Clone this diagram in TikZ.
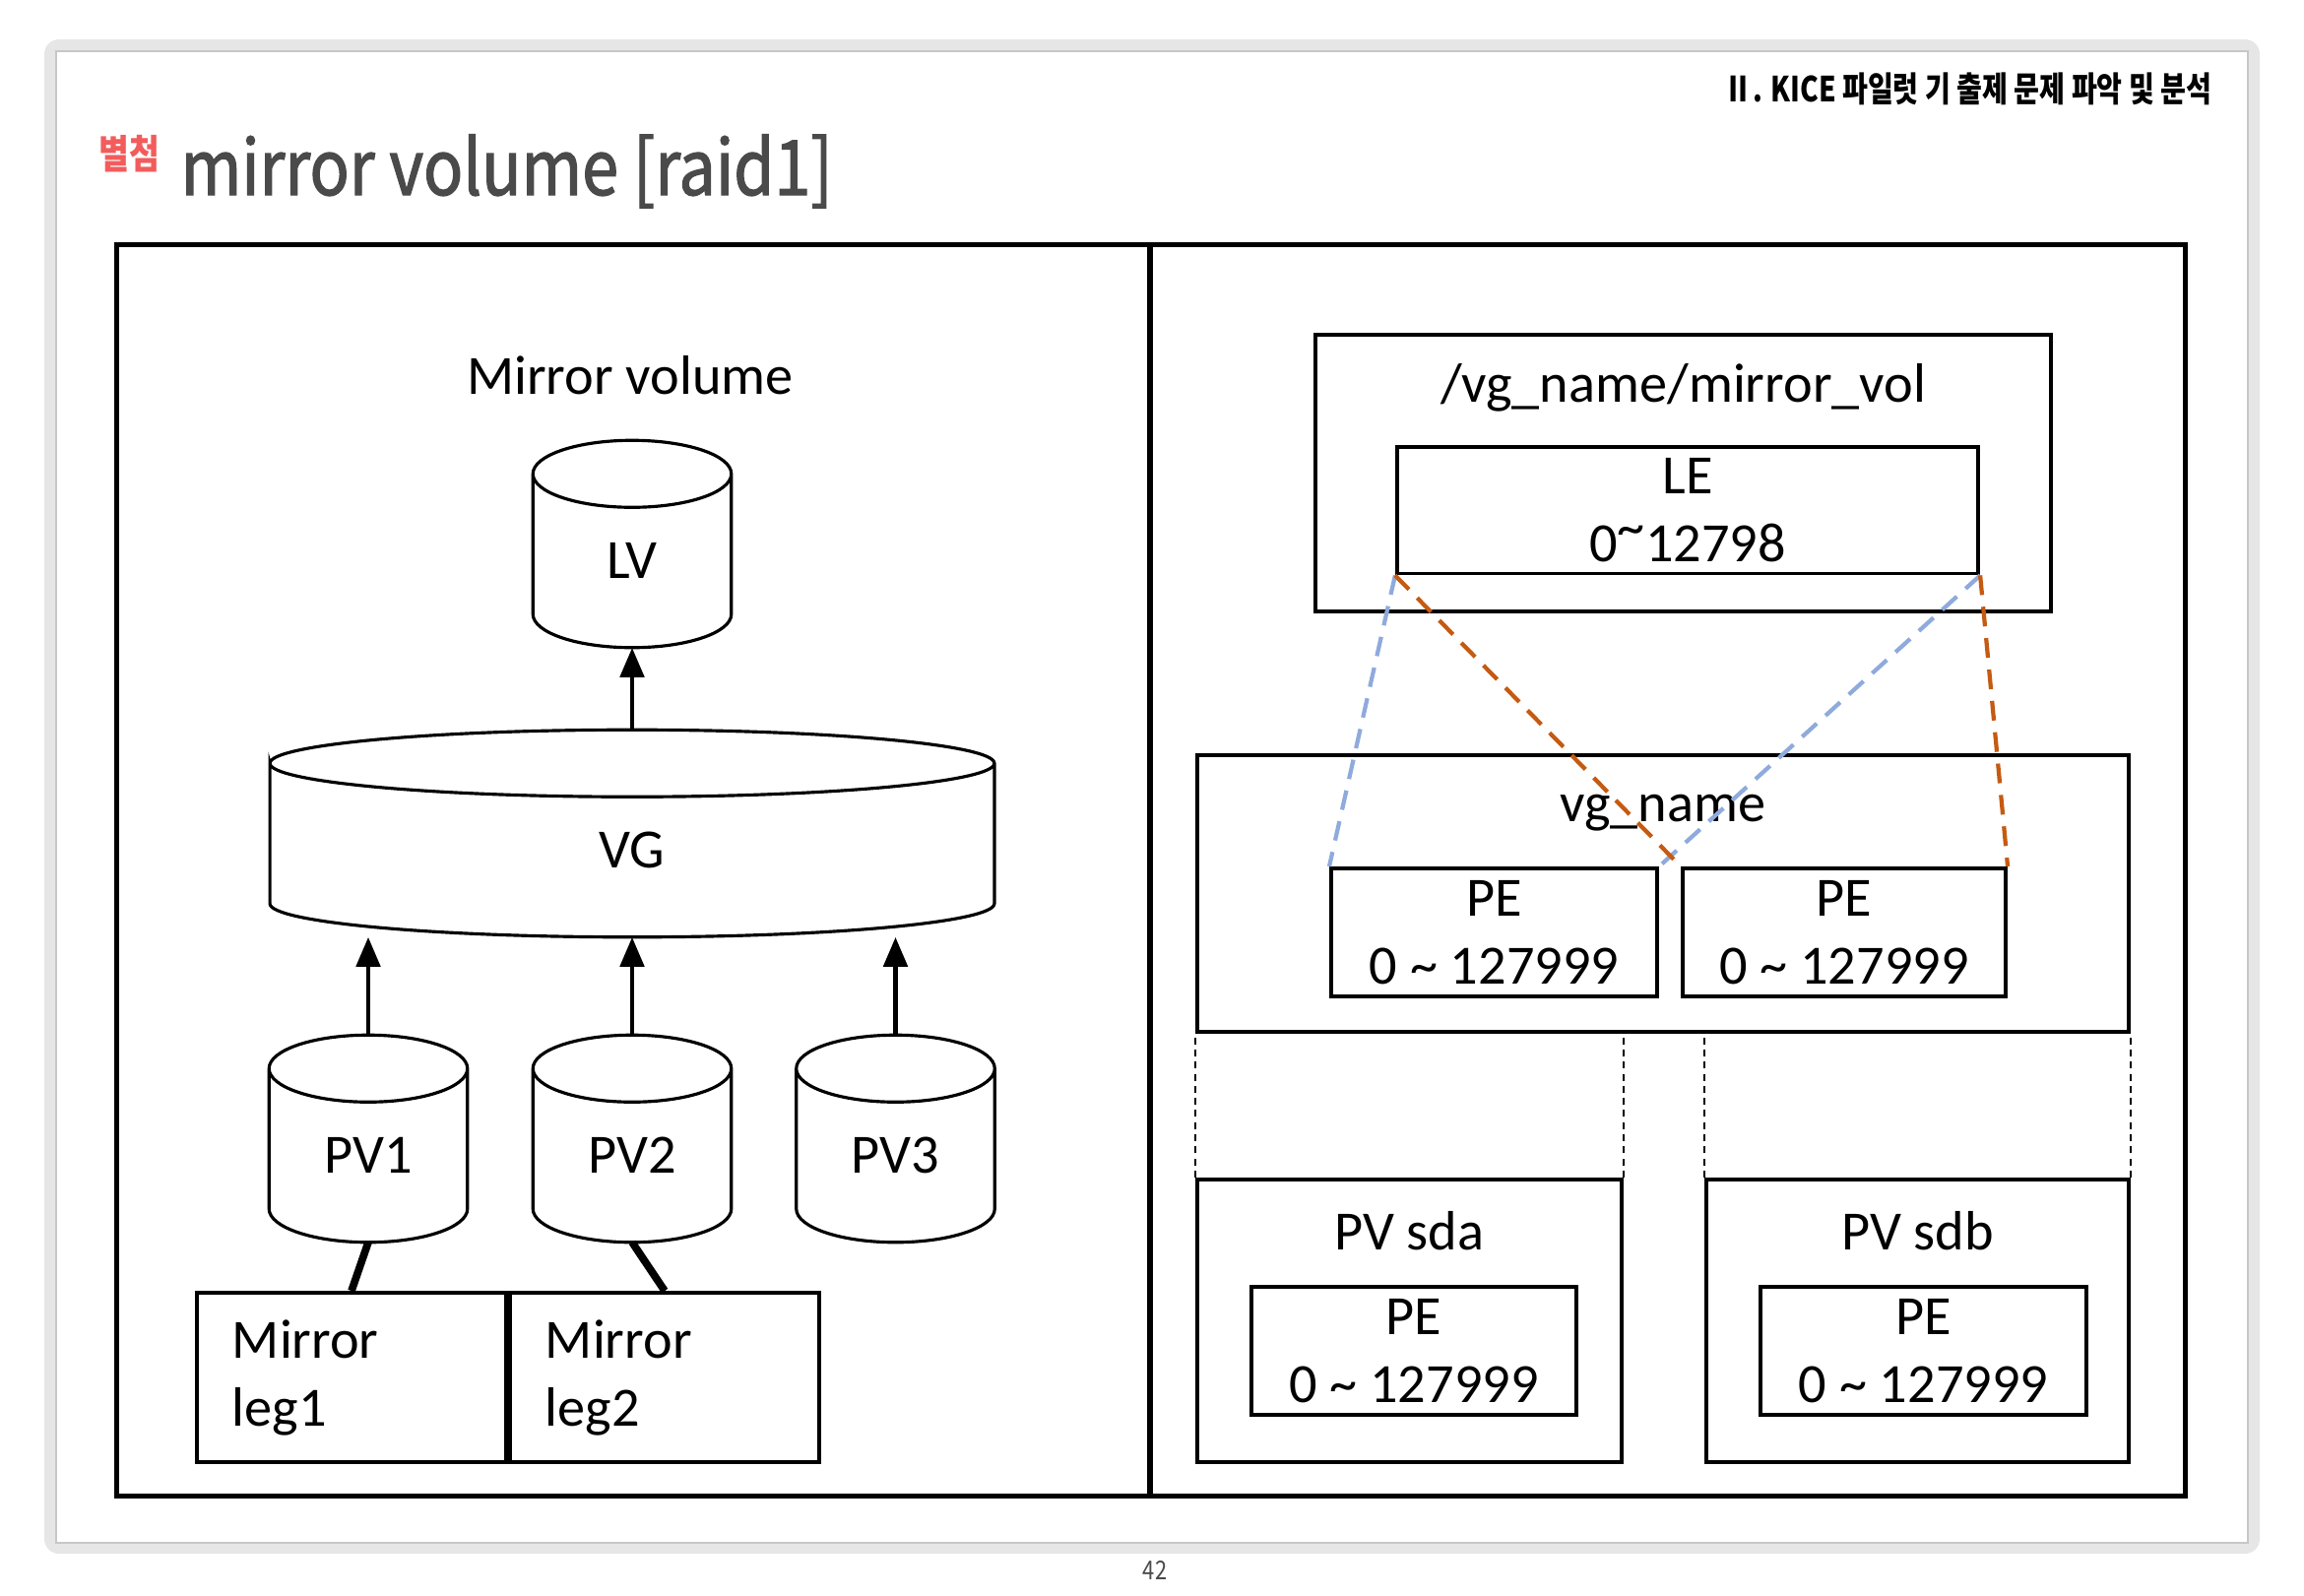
\documentclass[tikz,border=0pt]{standalone}
\usepackage{fontspec}
\setmainfont{Carlito}
\newfontfamily\krfont[FakeStretch=0.83]{Noto Sans CJK KR}
\newfontfamily\krnarrow[FakeStretch=0.8]{Noto Sans CJK KR}
\newfontfamily\krtitle[FakeStretch=0.86, FakeBold=1.6]{Noto Sans CJK KR}
\usetikzlibrary{positioning,arrows.meta,calc}

\definecolor{framegray}{HTML}{E6E6E6}
\definecolor{titlegray}{HTML}{4A4A4A}
\definecolor{tagred}{HTML}{F25C5C}
\definecolor{legblue}{HTML}{8FAADC}
\definecolor{legorange}{HTML}{C55A11}

\newcommand\cylry{0.34cm}

\begin{document}
\begin{tikzpicture}[x=0.01cm, y=-0.01cm, >={Triangle[length=0.3cm,width=0.24cm]},
  every node/.style={font=\fontsize{16}{19.6}\selectfont},
  panel/.style={draw, line width=1.3pt, minimum height=12.7cm},
  box/.style={draw, line width=1.1pt, align=center},
  cyl/.style={minimum width=2cm, minimum height=1.75cm, inner sep=0pt},
  cylline/.style={line width=0.9pt},
  leg/.style={draw, line width=1.1pt, minimum height=1.72cm, text width=2.42cm, inner xsep=0.36cm, align=left},
  link/.style={line width=1.2pt, dash pattern=on 5.7pt off 3.4pt},
  gap/.style={line width=0.6pt, dash pattern=on 2pt off 1.5pt}]

  % page frame
  \useasboundingbox (0,0) rectangle (2340,1620);
  \fill[framegray, rounded corners=0.15cm] (45,40) rectangle (2295,1578);
  \fill[white] (57,52) rectangle (2283,1567);
  \draw[black!22, line width=0.4pt] (57,52) rectangle (2283,1567);

  % header and title
  \node[anchor=east, inner sep=0pt, font=\krnarrow\bfseries\fontsize{10}{12}\selectfont] (chapter) at (2247,90) {Ⅱ. KICE 파일럿 기 출제 문제 파악 및 분석};
  \node[anchor=west, inner sep=0pt, text=tagred, font=\krfont\bfseries\fontsize{11.5}{13}\selectfont] (tag) at (100,156) {별첨};
  \node[anchor=base west, inner sep=0pt, text=titlegray, font=\krtitle\fontsize{22}{26}\selectfont] (title) at (183,198) {mirror volume [raid1]};

  \node[panel, minimum width=10.49cm] (leftpanel) at (643.5,884) {};
  \node[panel, minimum width=10.51cm] (rightpanel) at (1693.5,884) {};

  % left: LV / VG / PV stack
  \node[anchor=base] (mvtitle) at (640,400) {Mirror volume};
  \node[cyl] (lv) at (642,569.5) {LV};
  \node[cyl, minimum width=7.34cm] (vg) at (642,863.5) {VG};
  \node[cyl] (pv1) at (374,1173.5) {PV1};
  \node[cyl] (pv2) at (642,1173.5) {PV2};
  \node[cyl] (pv3) at (909.5,1173.5) {PV3};
  \foreach \c in {lv,vg,pv1,pv2,pv3}
    \draw[cylline] let \p1=(\c.west), \p2=(\c.east), \n1={(\x2-\x1)/2} in
      (\c.north west) arc[start angle=180, end angle=-180, x radius=\n1, y radius=\cylry]
      -- ([yshift=\cylry]\c.south west) arc[start angle=180, end angle=360, x radius=\n1, y radius=\cylry]
      -- (\c.north east);

  \draw[->, line width=1.4pt] ([yshift=\cylry]vg.north) -- (lv.south);
  \foreach \c in {pv1,pv2,pv3}
    \draw[->, line width=1.4pt] ([yshift=\cylry]\c.north) -- (\c.north |- vg.south);

  \node[leg] (leg1) at (357,1399) {Mirror\\leg1};
  \node[leg, right=0pt of leg1] (leg2) {Mirror\\leg2};
  \draw[line width=2.2pt] (pv1.south) -- (leg1.north);
  \draw[line width=2.2pt] (pv2.south) -- (leg2.north);

  % right: LE / PE mapping
  \node[box, minimum width=7.47cm, minimum height=2.81cm] (lvpath) at (1709.5,480.5) {};
  \node[anchor=base] (lvname) at ([yshift=-0.7cm]lvpath.north) {/vg\_name/mirror\_vol};
  \node[box, minimum width=5.9cm, minimum height=1.28cm] (le) at (1714,518) {LE\\0\raisebox{0.28em}{\textasciitilde}12798};

  \node[box, minimum width=9.46cm, minimum height=2.81cm] (vgbox) at (1689,907.5) {};
  \node[anchor=base] (vgname) at ([yshift=-0.69cm]vgbox.north) {vg\_name};
  \node[box, minimum width=3.31cm, minimum height=1.3cm] (pe1) at (1517.5,947) {PE\\0 \textasciitilde{} 127999};
  \node[box, minimum width=3.28cm, minimum height=1.3cm] (pe2) at (1873,947) {PE\\0 \textasciitilde{} 127999};

  \node[box, minimum width=4.31cm, minimum height=2.87cm] (sda) at (1431.5,1341.5) {};
  \node[anchor=base] (sdaname) at ([yshift=-0.73cm]sda.north) {PV sda};
  \node[box, minimum width=3.3cm, minimum height=1.3cm] (pesda) at (1436,1372) {PE\\0 \textasciitilde{} 127999};
  \node[box, minimum width=4.29cm, minimum height=2.87cm] (sdb) at (1947.5,1341.5) {};
  \node[anchor=base] (sdbname) at ([yshift=-0.73cm]sdb.north) {PV sdb};
  \node[box, minimum width=3.31cm, minimum height=1.3cm] (pesdb) at (1953.5,1372) {PE\\0 \textasciitilde{} 127999};

  \draw[link, legblue] (le.south west) -- (pe1.north west);
  \draw[link, legblue] (le.south east) -- (pe1.north east);
  \draw[link, legorange] (le.south west) -- (pe2.north west);
  \draw[link, legorange] (le.south east) -- (pe2.north east);

  \foreach \c in {sda.north west, sda.north east, sdb.north west, sdb.north east}
    \draw[gap] (\c) -- (\c |- vgbox.south);

  \node[text=titlegray, font=\krfont\fontsize{7.5}{9}\selectfont] (pageno) at (1173,1595) {42};
\end{tikzpicture}
\end{document}
